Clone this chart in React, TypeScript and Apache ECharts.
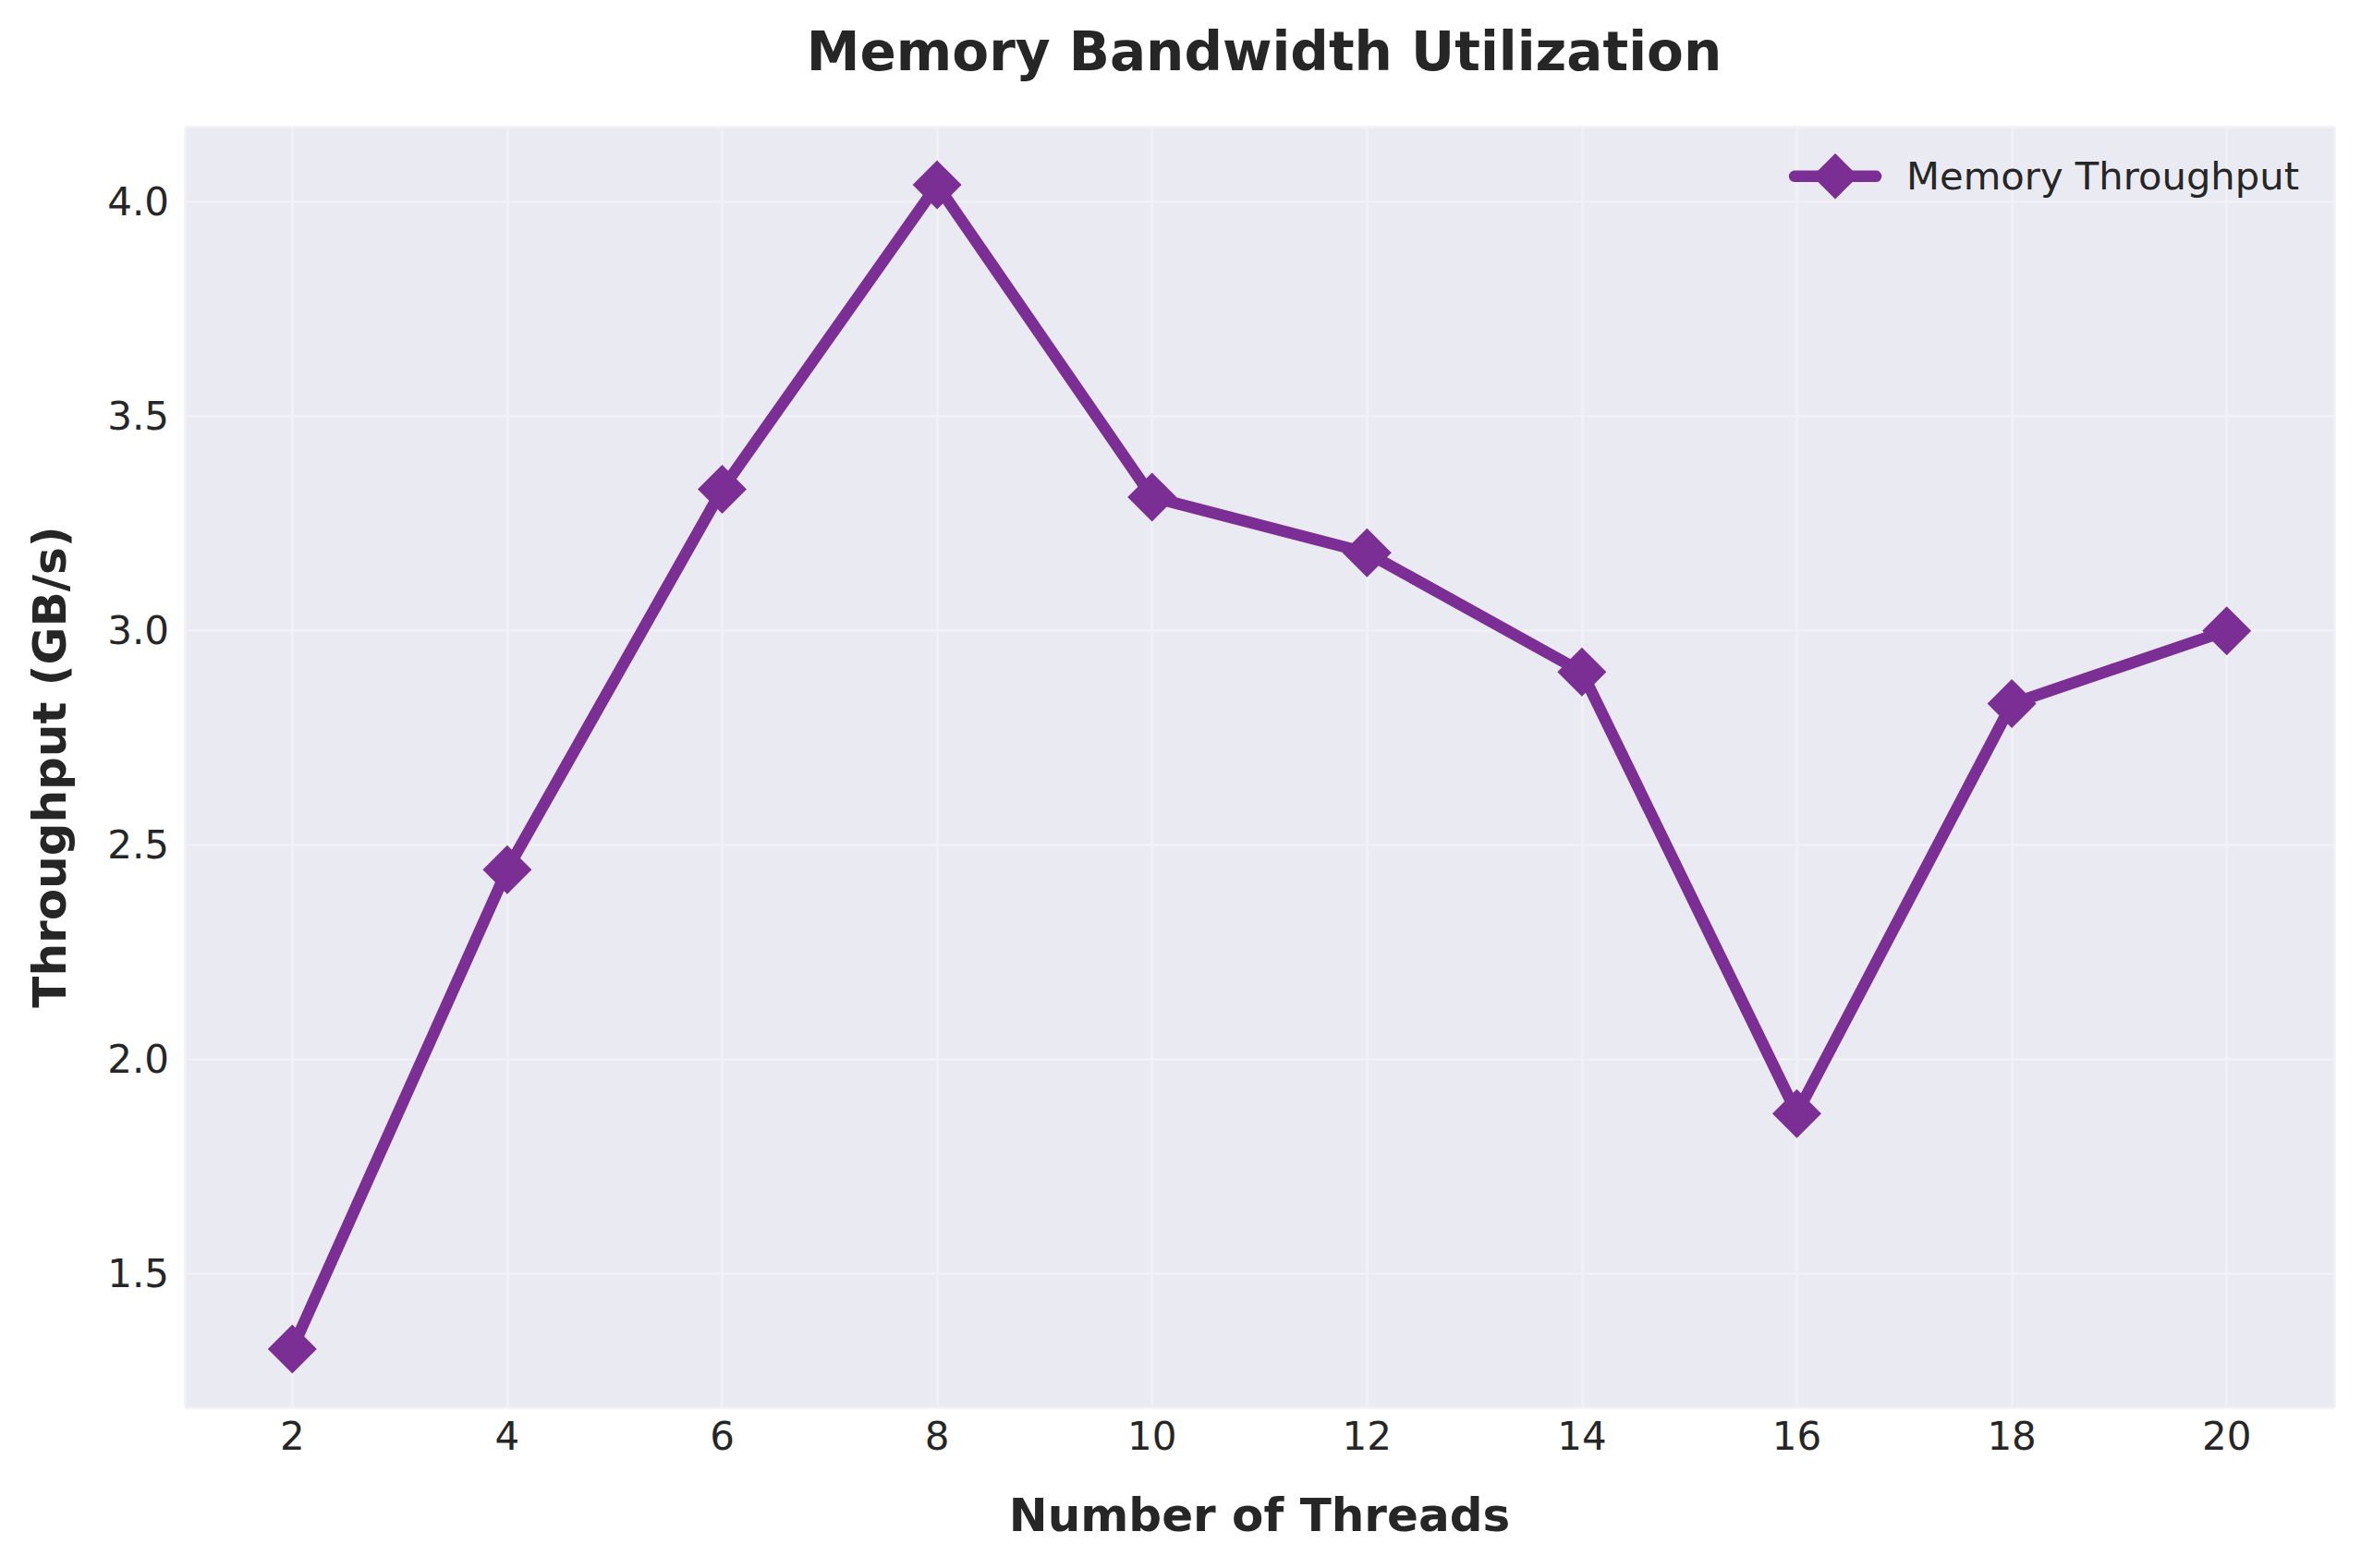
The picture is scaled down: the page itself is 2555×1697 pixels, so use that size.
import React, { useEffect, useRef } from "react";
import * as echarts from "echarts";

const threads = [2, 4, 6, 8, 10, 12, 14, 16, 18, 20];
const throughput = [1.325, 2.443, 3.33, 4.04, 3.312, 3.182, 2.904, 1.874, 2.83, 3.0];
const seriesName = "Memory Throughput";
const titleText = "Memory Bandwidth Utilization";
const xName = "Number of Threads";
const yName = "Throughput (GB/s)";

const FONT = "DejaVu Sans";
const PURPLE = "#7B2F94";
const TEXT = "#262626";

export default function App() {
  const ref = useRef<HTMLDivElement>(null);
  useEffect(() => {
    if (!ref.current) return;
    const chart = echarts.init(ref.current, null, { renderer: "svg" });
    const yMinData = Math.min(...throughput);
    const yMaxData = Math.max(...throughput);
    const pad = (yMaxData - yMinData) * 0.05;
    chart.setOption({
      animation: false,
      backgroundColor: "#ffffff",
      title: {
        text: titleText,
        left: 1363,
        textAlign: "center",
        top: 22,
        textStyle: { fontFamily: FONT, fontWeight: "bold", fontSize: 58, color: TEXT, lineHeight: 58 },
      },
      legend: {
        data: [seriesName],
        right: 67,
        top: 166,
        padding: 0,
        itemWidth: 88,
        itemHeight: 62,
        lineStyle: { width: 12.5, color: PURPLE, cap: "round" },
        textStyle: { fontFamily: FONT, fontSize: 41.7, color: TEXT, padding: [0, 0, 0, 28] },
      },
      grid: {
        left: 200,
        right: 29,
        top: 137,
        bottom: 174,
        show: true,
        backgroundColor: "#EAEAF2",
        borderWidth: 0,
      },
      xAxis: {
        type: "value",
        min: 1,
        max: 21,
        splitNumber: 10,
        name: xName,
        nameLocation: "middle",
        nameGap: 92,
        nameTextStyle: { fontFamily: FONT, fontWeight: "bold", fontSize: 50, color: TEXT, lineHeight: 50 },
        axisLine: { show: false },
        axisTick: { show: false },
        axisLabel: {
          showMinLabel: false,
          showMaxLabel: false,
          fontFamily: FONT,
          fontSize: 42,
          color: TEXT,
          margin: 10,
        },
        splitLine: { show: true, lineStyle: { color: "#F1F1F6", width: 2.5 } },
      },
      yAxis: {
        type: "value",
        min: +(yMinData - pad).toFixed(3),
        max: +(yMaxData + pad).toFixed(3),
        splitNumber: 6,
        name: yName,
        nameLocation: "middle",
        nameRotate: 90,
        nameGap: 121,
        nameTextStyle: { fontFamily: FONT, fontWeight: "bold", fontSize: 50, color: TEXT, lineHeight: 50 },
        axisLine: { show: false },
        axisTick: { show: false },
        axisLabel: {
          showMinLabel: false,
          showMaxLabel: false,
          fontFamily: FONT,
          fontSize: 42,
          color: TEXT,
          margin: 17,
          formatter: (v: number) => v.toFixed(1),
        },
        splitLine: { show: true, lineStyle: { color: "#F1F1F6", width: 2.5 } },
      },
      series: [
        {
          name: seriesName,
          type: "line",
          data: threads.map((t, i) => [t, throughput[i]]),
          symbol: "diamond",
          symbolSize: 53,
          lineStyle: { color: PURPLE, width: 12.5 },
          itemStyle: { color: PURPLE },
          emphasis: { disabled: true },
        },
      ],
    });
    return () => chart.dispose();
  }, []);
  return (
    <div
      ref={ref}
      style={{ position: "fixed", left: 0, top: 0, width: 2555, height: 1697, background: "#fff" }}
    />
  );
}
